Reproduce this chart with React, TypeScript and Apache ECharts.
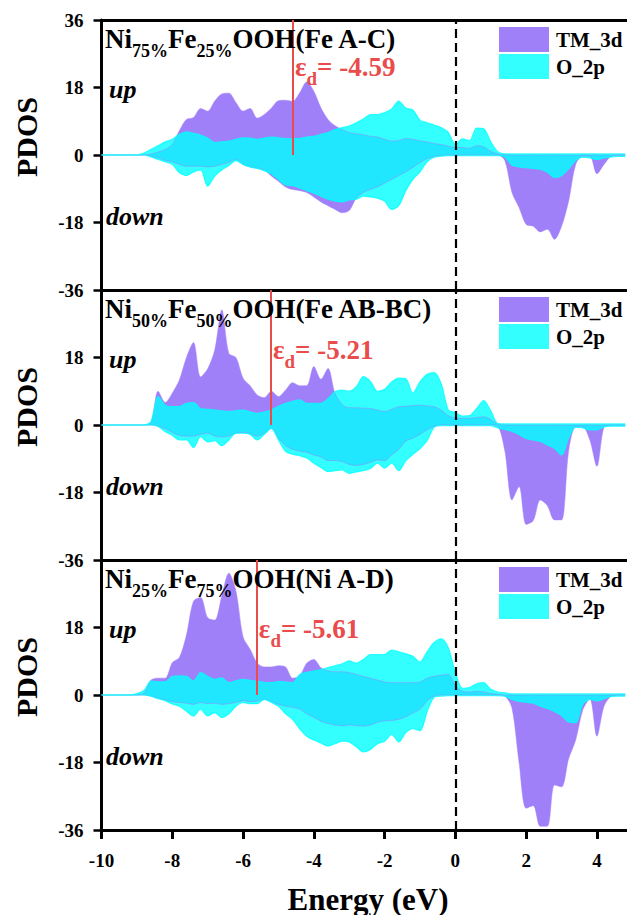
import React, { useEffect, useRef } from "react";
import * as echarts from "echarts";

// Energy grid (eV)
const energy = [
  -10.0, -9.8, -9.6, -9.4, -9.2, -9.0, -8.8, -8.6, -8.4, -8.2,
  -8.0, -7.8, -7.6, -7.4, -7.2, -7.0, -6.8, -6.6, -6.4, -6.2,
  -6.0, -5.8, -5.6, -5.4, -5.2, -5.0, -4.8, -4.6, -4.4, -4.2,
  -4.0, -3.8, -3.6, -3.4, -3.2, -3.0, -2.8, -2.6, -2.4, -2.2,
  -2.0, -1.8, -1.6, -1.4, -1.2, -1.0, -0.8, -0.6, -0.4, -0.2,
  0.0, 0.2, 0.4, 0.6, 0.8, 1.0, 1.2, 1.4, 1.6, 1.8,
  2.0, 2.2, 2.4, 2.6, 2.8, 3.0, 3.2, 3.4, 3.6, 3.8,
  4.0, 4.2, 4.4, 4.6, 4.8,
];

// Panel 1: Ni75%Fe25%OOH(Fe A-C)
const p1TmUp = [
  0, 0, 0, 0, 0, 0, 0, 0.3, 0.8, 1.5,
  2.8, 6.5, 9.5, 10, 12.4, 11.7, 14.4, 16.3, 16.5, 14,
  11.7, 12.4, 9.8, 10.8, 12.5, 14.5, 14.6, 14.3, 16.6, 19.5,
  17, 12.6, 9.5, 7.8, 6.8, 6, 5.7, 5.4, 5, 4.8,
  4.2, 3.7, 3.9, 4.4, 4.2, 3.8, 3.5, 3.1, 2.8, 2.4,
  2, 2, 1.8, 2.5, 2.2, 1, 0.3, 0.1, 0, 0,
  0, 0, 0, 0, 0, 0, 0, 0, 0, 0,
  0, 0, 0, 0, 0,
];
const p1O2pUp = [
  0, 0, 0, 0, 0, 0, 0.5, 1.5, 2.5, 3.5,
  4.2, 5.5, 6.2, 5.8, 5.3, 4.5, 3.3, 3.5, 3.7, 4.2,
  4.6, 4.5, 4.2, 4.5, 4.8, 4.6, 4.4, 4.4, 4.4, 4.8,
  5, 5.5, 6, 6.8, 7.3, 7.7, 8.6, 9.6, 10.8, 10.8,
  11.3, 12.3, 14.4, 12.5, 12, 9.3, 8.6, 8, 7.3, 6,
  2.8, 4.3, 3.8, 7.2, 7, 3.5, 0.9, 0.3, 0.3, 0.3,
  0.3, 0.3, 0.3, 0.3, 0.3, 0.3, 0.3, 0.3, 0.3, 0.3,
  0.3, 0.3, 0.3, 0.3, 0.3,
];
const p1TmDown = [
  0, 0, 0, 0, 0, 0, 0, -0.3, -0.8, -1.5,
  -1.8, -2.5, -3, -3, -3, -3.2, -3, -2.5, -2, -1.2,
  -2.5, -3.2, -3.5, -4, -5.6, -7, -8.5, -9.2, -9.5, -10,
  -11.2, -12.5, -13.5, -14.5, -15.4, -14.8, -11.5, -10, -9.2, -8.5,
  -7.5, -6.5, -5.5, -4.5, -3.3, -2, -1, -0.4, -0.2, 0,
  0, 0, 0, 0, 0, 0, 0, -1.5, -10, -14,
  -18.5, -19, -20.5, -19.8, -22.5, -19, -12.3, -2.5, -0.3, -0.3,
  -5, -2.5, -0.3, 0, 0,
];
const p1O2pDown = [
  0, 0, 0, 0, 0, 0, 0, -0.5, -1.2, -1.8,
  -2.5, -4.7, -5.5, -4.5, -4, -8.3, -5.6, -4, -2.8, -1.5,
  -2.5, -3.2, -3.6, -4.2, -5, -6.5, -8, -8.2, -8.8, -9.5,
  -10.2, -11, -11.8, -12.3, -12.5, -12, -11.8, -11, -11.2, -11.5,
  -12.3, -14.5, -13.5, -9.5, -6.5, -4.5, -1.8, -0.6, -0.3, -0.2,
  -0.2, -0.2, -0.2, -0.2, -0.2, -0.2, -0.2, -0.5, -2.7, -3.2,
  -3.4, -3.6, -3.8, -4.6, -6, -5.5, -3.7, -1.5, -0.6, -0.8,
  -1.2, -0.8, -0.5, -0.4, -0.4,
];

// Panel 2: Ni50%Fe50%OOH(Fe AB-BC)
const p2TmUp = [
  0, 0, 0, 0, 0, 0, 0, 0.5, 9, 6,
  8.5, 12, 18, 22, 12.8, 15, 20, 30.7, 19.1, 18,
  12.5, 10.5, 8, 7.3, 9, 7.6, 9.3, 11.3, 10.5, 10.5,
  15.6, 12.2, 15.1, 8.4, 5.5, 4.6, 4.6, 4.5, 4.4, 4,
  3.6, 4.2, 4.9, 5, 5.2, 5.3, 5.1, 4.9, 4, 2.5,
  1.9, 1.8, 1.8, 2, 2.2, 1.5, 0.3, 0, 0, 0,
  0, 0, 0, 0, 0, 0, 0, 0, 0, 0,
  0, 0, 0, 0, 0,
];
const p2O2pUp = [
  0, 0, 0, 0, 0, 0, 0, 1, 7.6, 5.3,
  4.9, 4.9, 5.8, 6, 4.4, 4.2, 4, 3.8, 3.6, 3.8,
  4, 3.5, 3.1, 3.5, 4, 5, 5.8, 6.3, 6.7, 5.8,
  5.8, 5.8, 7, 8.9, 9.3, 9, 10.2, 12.9, 11.6, 9,
  9.5, 11.5, 12.5, 12.3, 8.5, 11.5, 13.5, 14, 11, 4,
  3.3, 2.4, 2.5, 4.4, 6.5, 3.8, 0.4, 0.3, 0.3, 0.3,
  0.3, 0.3, 0.3, 0.3, 0.3, 0.3, 0.3, 0.3, 0.3, 0.3,
  0.3, 0.3, 0.3, 0.3, 0.3,
];
const p2TmDown = [
  0, 0, 0, 0, 0, 0, 0, 0, -0.3, -1,
  -2, -2.8, -3, -3, -2.5, -2.2, -3, -3.2, -3, -2.2,
  -2, -2.3, -3, -2.2, -0.9, -3.5, -5.5, -6.5, -7, -7.3,
  -8, -8.5, -9.5, -9.5, -9.8, -10.5, -10.8, -10.5, -10, -9.3,
  -9.5, -8, -6.5, -4.3, -3.5, -2.5, -1.3, -0.4, 0, 0,
  0, 0, 0, 0, 0, 0, -0.3, -7, -20, -16.4,
  -26.5, -25.5, -20, -21.5, -25.3, -25.3, -7, -0.5, -0.5, -4,
  -11, -0.5, 0, 0, 0,
];
const p2O2pDown = [
  0, 0, 0, 0, 0, 0, 0, 0, -0.4, -1.8,
  -2.7, -4, -4, -6, -3.1, -4.5, -4.2, -5.5, -4, -2.2,
  -2.2, -2.5, -4, -2.5, -0.9, -4, -7, -7.8, -8.2, -8.8,
  -10.2, -11.3, -12.4, -12.2, -12, -12.9, -12.5, -12.2, -11.6, -10.2,
  -11.5, -10.2, -12.2, -9.5, -7.8, -6.3, -4.2, -0.6, -0.2, -0.2,
  -0.2, -0.2, -0.2, -0.2, -0.2, -0.2, -0.8, -1.2, -1.7, -2.5,
  -3.6, -4, -4.4, -5.3, -6.2, -8, -3.5, -0.6, -0.8, -1.3,
  -1.3, -0.5, -0.3, -0.3, -0.3,
];

// Panel 3: Ni25%Fe75%OOH(Ni A-D)
const p3TmUp = [
  0, 0, 0, 0, 0, 0, 0.5, 4, 4.5, 4.5,
  8.6, 10, 16, 25, 26, 20.6, 20, 26.5, 32.5, 27.7,
  15.5, 12.2, 8.5, 7.5, 7.5, 7.8, 7.5, 4.5, 5.1, 8.5,
  9.5, 7.3, 6.4, 6.2, 6.2, 6, 5.5, 5, 4.5, 4,
  3.5, 3.3, 3.3, 3.3, 3.3, 3.5, 4.5, 5, 5.3, 5.5,
  2.5, 1, 0.8, 1, 0.8, 0.4, 0.2, 0, 0, 0,
  0, 0, 0, 0, 0, 0, 0, 0, 0, 0,
  0, 0, 0, 0, 0,
];
const p3O2pUp = [
  0, 0, 0, 0, 0, 0.4, 1.2, 3.7, 3.5, 3.5,
  5, 5.1, 5, 3.7, 6, 5, 4.2, 4.6, 3.3, 3.8,
  4.2, 3.9, 3.7, 3.4, 3.3, 3.6, 3.5, 3.3, 5.5, 6,
  6.4, 6.8, 7.3, 7.8, 8.3, 9.1, 8.5, 9.5, 10.8, 10.8,
  10.8, 12, 11.5, 11, 10.3, 8.8, 11.5, 14, 15, 12.6,
  6, 1.8, 2, 3, 3.3, 1.5, 0.8, 0.6, 0.3, 0.3,
  0.3, 0.3, 0.3, 0.3, 0.3, 0.3, 0.3, 0.3, 0.3, 0.3,
  0.3, 0.3, 0.3, 0.3, 0.3,
];
const p3TmDown = [
  0, 0, 0, 0, 0, 0, 0, -0.3, -0.8, -1.3,
  -1.8, -2, -2.2, -2.5, -2, -2.3, -2.2, -2.5, -2.3, -2,
  -1.5, -1.8, -1.6, -1.2, -1.8, -2.5, -3, -3.3, -3.8, -5,
  -6, -7, -7.6, -8, -8.2, -8, -8.2, -8.3, -8, -7.3,
  -6.9, -6.8, -6.5, -5.8, -4.8, -3.8, -1.6, -0.3, 0, 0,
  0, 0, 0, 0, 0, 0, 0, -0.3, -3.5, -18,
  -30.2, -29.5, -35, -35, -24, -24.5, -17, -12, -4, -1,
  -11, -3, -0.3, 0, 0,
];
const p3O2pDown = [
  0, 0, 0, 0, 0, 0, 0, -0.3, -1, -1.5,
  -2.4, -3, -4.3, -5.6, -3.8, -5.6, -4.7, -6, -5, -3,
  -2, -2.3, -2.3, -1.2, -2, -3, -5, -6.5, -9, -11,
  -12, -12.8, -13.6, -13, -12.3, -12.5, -13.8, -15.2, -14.5, -13,
  -12.3, -10.5, -12.5, -10, -9, -9.5, -4.5, -0.6, -0.3, -0.2,
  -0.2, -0.2, -0.2, -0.2, -0.2, -0.2, -0.2, -0.3, -1.2, -1.7,
  -1.9, -2.2, -3, -3.6, -4.4, -5.5, -7.2, -7.4, -2.5, -1.2,
  -1.6, -1, -0.4, -0.3, -0.3,
];

const seriesNames = ["TM_3d", "O_2p"];
const dCenters = [-4.59, -5.21, -5.61];
const dCenterLabels = ["-4.59", "-5.21", "-5.61"];
const niShares = ["75%", "50%", "25%"];
const feShares = ["25%", "50%", "75%"];
const sites = ["(Fe A-C)", "(Fe AB-BC)", "(Ni A-D)"];
const xTicks = [-10, -8, -6, -4, -2, 0, 2, 4];
const yTicks = [-36, -18, 0, 18, 36];

const FONT = "Liberation Serif, Times New Roman, serif";
const PURPLE = "#A080F8";
const CYAN = "rgba(0,255,255,0.8)";
const RED = "#EA4B4B";

const PANEL_TOP = 20;
const PANEL_H = 270;
const GRID_LEFT = 101.5;
const X_MIN = -10;
const X_MAX = 4.85;
const EPS_TOP = [33, 46, 55];

const panels = [
  { tmUp: p1TmUp, tmDown: p1TmDown, oUp: p1O2pUp, oDown: p1O2pDown },
  { tmUp: p2TmUp, tmDown: p2TmDown, oUp: p2O2pUp, oDown: p2O2pDown },
  { tmUp: p3TmUp, tmDown: p3TmDown, oUp: p3O2pUp, oDown: p3O2pDown },
];

const pairs = (ys: number[]) => energy.map((e, k) => [e, ys[k]]);

function buildOption() {
  const grid: any[] = [];
  const xAxis: any[] = [];
  const yAxis: any[] = [];
  const series: any[] = [];
  const legend: any[] = [];
  const axisLineStyle = { color: "#000", width: 3 };
  panels.forEach((p, i) => {
    const last = i === panels.length - 1;
    grid.push({ left: GRID_LEFT, right: 0, top: PANEL_TOP + PANEL_H * i, height: PANEL_H });
    xAxis.push({
      type: "value",
      gridIndex: i,
      min: X_MIN,
      max: X_MAX,
      interval: 2,
      axisLine: { show: true, onZero: false, lineStyle: axisLineStyle },
      axisTick: {
        show: last,
        length: 9,
        customValues: xTicks,
        lineStyle: { color: "#000", width: 3 },
      },
      axisLabel: {
        show: last,
        customValues: xTicks,
        margin: 21,
        fontSize: 19,
        fontWeight: "bold",
        fontFamily: FONT,
        color: "#000",
      },
      splitLine: { show: false },
    });
    yAxis.push({
      type: "value",
      gridIndex: i,
      min: yTicks[0],
      max: yTicks[yTicks.length - 1],
      interval: 18,
      axisLine: { show: true, onZero: false, lineStyle: axisLineStyle },
      axisTick: { show: true, length: 8, lineStyle: { color: "#000", width: 2.5 } },
      axisLabel: {
        showMaxLabel: i === 0,
        margin: 18,
        fontSize: 19,
        fontWeight: "bold",
        fontFamily: FONT,
        color: "#000",
      },
      splitLine: { show: false },
    });
    const base = {
      type: "line",
      xAxisIndex: i,
      yAxisIndex: i,
      smooth: 0.3,
      showSymbol: false,
      symbol: "none",
      silent: true,
    };
    const tm = {
      ...base,
      name: seriesNames[0],
      itemStyle: { color: PURPLE },
      lineStyle: { width: 0.5, color: PURPLE },
      areaStyle: { color: PURPLE, opacity: 1 },
    };
    const ox = {
      ...base,
      name: seriesNames[1],
      itemStyle: { color: CYAN },
      lineStyle: { width: 1.2, color: CYAN },
      areaStyle: { color: CYAN, opacity: 1 },
    };
    series.push({ ...tm, data: pairs(p.tmUp) });
    series.push({ ...tm, data: pairs(p.tmDown) });
    series.push({ ...ox, data: pairs(p.oUp) });
    series.push({
      ...ox,
      data: pairs(p.oDown),
      markLine: {
        silent: true,
        symbol: ["none", "none"],
        label: { show: false },
        data: [
          { xAxis: 0, lineStyle: { color: "#000", type: [9, 5], width: 2.2 } },
          [
            { coord: [dCenters[i], yTicks[yTicks.length - 1]], lineStyle: { color: RED, type: "solid", width: 2 } },
            { coord: [dCenters[i], 0] },
          ],
        ],
      },
    });
    legend.push({
      data: seriesNames,
      left: 499,
      top: PANEL_TOP + 7 + PANEL_H * i,
      orient: "vertical",
      itemWidth: 50,
      itemHeight: 25,
      itemGap: 2,
      icon: "rect",
      padding: 0,
      selectedMode: false,
      itemStyle: { borderWidth: 0 },
      textStyle: { fontSize: 21, fontWeight: "bold", fontFamily: FONT, color: "#000", padding: [0, 0, 0, 2] },
    });
  });
  // top frame line of the first panel
  xAxis.push({
    type: "value",
    gridIndex: 0,
    position: "top",
    min: X_MIN,
    max: X_MAX,
    axisLine: { show: true, onZero: false, lineStyle: axisLineStyle },
    axisTick: { show: false },
    axisLabel: { show: false },
    splitLine: { show: false },
  });
  return { animation: false, grid, xAxis, yAxis, series, legend };
}

function buildGraphics(chart: any) {
  const g: any[] = [];
  const mainStyle = { fontSize: 27, fontWeight: "bold", fontFamily: FONT, fill: "#000", lineHeight: 27, verticalAlign: "top" };
  const subStyle = { fontSize: 18, fontWeight: "bold", fontFamily: FONT, fill: "#000", lineHeight: 35, verticalAlign: "bottom" };
  panels.forEach((_, i) => {
    const o = PANEL_TOP + PANEL_H * i;
    g.push({
      type: "text",
      x: 105,
      y: o + 5,
      z: 100,
      style: {
        text: `{m|Ni}{s|${niShares[i]}}{m|Fe}{s|${feShares[i]}}{m|OOH${sites[i]}}`,
        verticalAlign: "top",
        align: "left",
        rich: { m: mainStyle, s: subStyle },
      },
    });
    const px = chart.convertToPixel({ gridIndex: i }, [dCenters[i], 0]);
    g.push({
      type: "text",
      x: px[0] + 2,
      y: o + EPS_TOP[i],
      z: 100,
      style: {
        text: `{m|ε}{s|d}{m|= ${dCenterLabels[i]}}`,
        verticalAlign: "top",
        align: "left",
        rich: {
          m: { ...mainStyle, fill: RED },
          s: { ...subStyle, fontSize: 19, fill: RED },
        },
      },
    });
    g.push({
      type: "text",
      x: 109,
      y: o + 69,
      z: 100,
      style: { text: "up", fontSize: 26, fontWeight: "bold", fontStyle: "italic", fontFamily: FONT, fill: "#000", align: "left", verticalAlign: "middle" },
    });
    g.push({
      type: "text",
      x: 106,
      y: o + 196,
      z: 100,
      style: { text: "down", fontSize: 26, fontWeight: "bold", fontStyle: "italic", fontFamily: FONT, fill: "#000", align: "left", verticalAlign: "middle" },
    });
    g.push({
      type: "text",
      x: 26,
      y: o + 117,
      rotation: Math.PI / 2,
      z: 100,
      style: { text: "PDOS", fontSize: 30, fontWeight: "bold", fontFamily: FONT, fill: "#000", align: "center", verticalAlign: "middle" },
    });
  });
  g.push({
    type: "text",
    x: 368,
    y: 899,
    z: 100,
    style: { text: "Energy (eV)", fontSize: 31, fontWeight: "bold", fontFamily: FONT, fill: "#000", align: "center", verticalAlign: "middle" },
  });
  return g;
}

export default function App() {
  const ref = useRef<HTMLDivElement>(null);
  useEffect(() => {
    if (!ref.current) return;
    const chart = echarts.init(ref.current, undefined, { renderer: "svg" });
    chart.setOption(buildOption() as any);
    chart.setOption({ graphic: buildGraphics(chart) } as any);
    return () => chart.dispose();
  }, []);
  return (
    <div
      ref={ref}
      style={{ position: "absolute", left: 0, top: 0, width: 627, height: 915, background: "#fff" }}
    />
  );
}
